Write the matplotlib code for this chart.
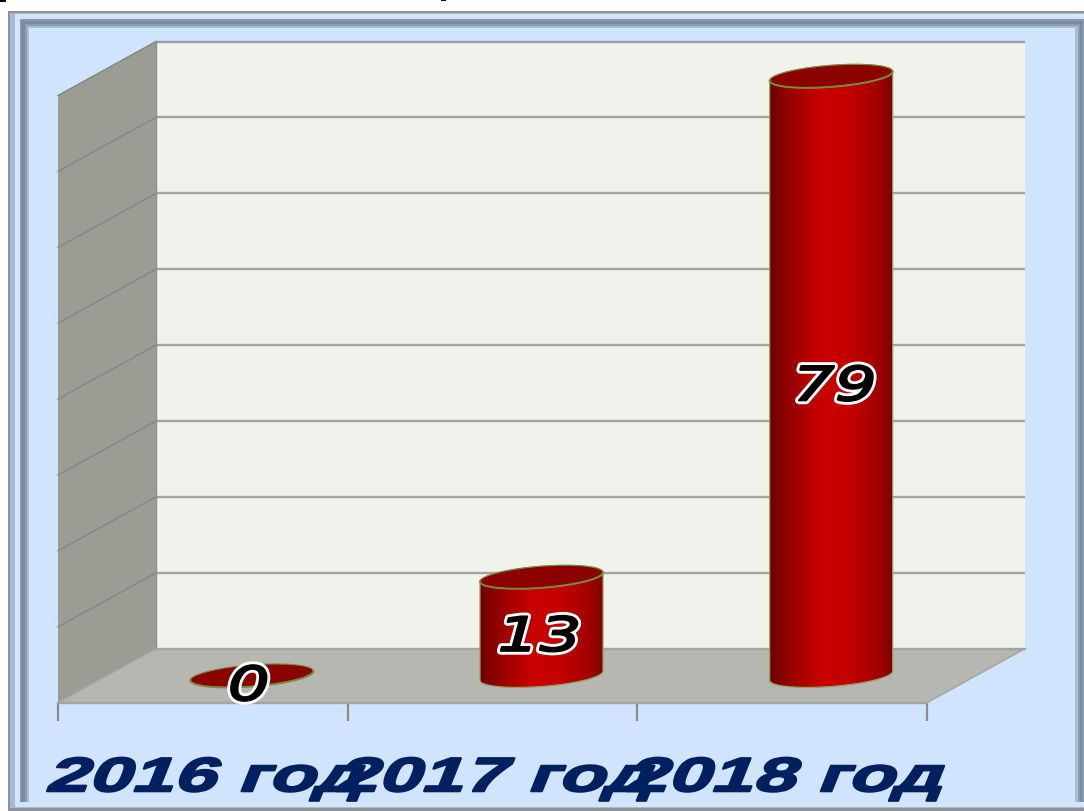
import numpy as np
import matplotlib
matplotlib.use("Agg")
import matplotlib.pyplot as plt
from matplotlib.patches import Polygon, Rectangle, PathPatch
from matplotlib.path import Path
from matplotlib.transforms import Affine2D
from matplotlib.colors import LinearSegmentedColormap
import matplotlib.patheffects as pe

# ---- data -------------------------------------------------------------
categories = ["2016 год", "2017 год", "2018 год"]
values = [0, 13, 79]
value_ticks = [10, 20, 30, 40, 50, 60, 70, 80]

W, H = 1084, 812
PANEL = "#d0e4fd"
BACK = "#f0f3ec"
SIDE = "#9b9d95"
FLOOR = "#b5b7b0"
GRID = "#a3a39f"
NAVY = "#00205f"


class Stretch(pe.AbstractPathEffect):
    """Widen (and optionally slant) a text about its own centre."""

    def __init__(self, sx, effects, skew=0, shift=0):
        super().__init__()
        self.sx = sx
        self.skew = skew
        self.shift = shift
        self.effects = effects

    def draw_path(self, renderer, gc, tpath, affine, rgbFace=None):
        ext = tpath.transformed(affine).get_extents()
        cx = 0.5 * (ext.x0 + ext.x1)
        cy = 0.5 * (ext.y0 + ext.y1)
        aff = affine + (Affine2D().translate(-cx, -cy).skew_deg(self.skew, 0)
                        .scale(self.sx, 1).translate(cx + self.shift, cy))
        for e in self.effects:
            e.draw_path(renderer, gc, tpath, aff, rgbFace)


fig = plt.figure(figsize=(W / 100, H / 100), dpi=100, facecolor="white")

# ---- slide frame (pixel coordinates) -----------------------------------
bg = fig.add_axes([0, 0, 1, 1], zorder=0)
bg.set_xlim(0, W)
bg.set_ylim(H, 0)
bg.axis("off")
frame = [
    (8, 12, 1084, 812, "#8e9296"),
    (10, 14, 1084, 809, "#a7bad4"),
    (15, 15, 1084, 808, "#d4e4f9"),
    (20, 20, 1084, 803, "#8b99ae"),
    (21, 22, 1082, 803, "#7c8aa1"),
    (25, 25, 1080, 803, "#8e9db5"),
    (27, 27, 1078, 803, "#aabdd8"),
    (29, 29, 1075, 803, PANEL),
]
for x0, y0, x1, y1, c in frame:
    bg.add_patch(Rectangle((x0, y0), x1 - x0, y1 - y0, fc=c, ec="none"))
bg.add_patch(Rectangle((0, 0), 6, 3, fc="black", ec="none"))
bg.add_patch(Rectangle((441, 0), 5, 2, fc="black", ec="none"))

# ---- chart axes: front plane of the 3-D box -----------------------------
ax = fig.add_axes([58 / W, (H - 703.7) / H, (927 - 58) / W, (703.7 - 96.5) / H], zorder=1)
ax.patch.set_visible(False)
for sp in ax.spines.values():
    sp.set_visible(False)
n = len(categories)
ymax = max(value_ticks)
px_x = (927 - 58) / n      # pixels per category
px_y = (703.7 - 96.5) / ymax   # pixels per value unit
dx = 98 / px_x             # box depth
dy = 54 / px_y

lw = 1.7
ax.add_patch(Polygon([(dx, dy), (n + dx, dy), (n + dx, ymax + dy), (dx, ymax + dy)],
                     fc=BACK, ec="none", clip_on=False, zorder=1))
ax.add_patch(Polygon([(0, 0), (dx, dy), (dx, ymax + dy), (0, ymax)],
                     fc=SIDE, ec="none", clip_on=False, zorder=1))
ax.add_patch(Polygon([(0, 0), (n, 0), (n + dx, dy), (dx, dy)],
                     fc=FLOOR, ec="none", clip_on=False, zorder=1))
for v in value_ticks:
    ax.plot([dx, n + dx], [v + dy, v + dy], color=GRID if v < ymax else "#9a9ea8",
            lw=lw, clip_on=False, zorder=2, solid_capstyle="butt")
    ax.plot([0, dx], [v, v + dy], color="#85867f", lw=1.0, clip_on=False, zorder=2)
ax.plot([0, dx], [0, dy], color="#a6a8a2", lw=1, clip_on=False, zorder=2)
ax.plot([dx, dx], [dy, ymax + dy], color="#8f918a", lw=1, clip_on=False, zorder=2)
ax.plot([dx, n + dx], [dy, dy], color=GRID, lw=lw, clip_on=False, zorder=2)
ax.plot([0, n], [0, 0], color=GRID, lw=lw, clip_on=False, zorder=2)
ax.plot([n, n + dx], [0, dy], color=GRID, lw=1, clip_on=False, zorder=2)

# ---- cylinders ----------------------------------------------------------
cmap = LinearSegmentedColormap.from_list(
    "cyl", [(0, "#700000"), (0.2, "#a00000"), (0.42, "#c80000"), (0.62, "#c60000"),
            (0.85, "#a80000"), (1, "#800000")])
grad = np.linspace(0, 1, 256).reshape(1, -1)
a = 61.5 / px_x
b = 10.8 / px_y
s = 4.6 / px_y
EDGE = "#7d8a3a"


def rim(cx, cy, t):
    return cx + a * np.cos(t), cy + b * np.sin(t) + s * np.cos(t)


for i, v in enumerate(values):
    cx = i + 0.5 + dx / 2
    base = dy / 2
    top = base + v
    if v > 0:
        xl, yl = rim(cx, base, np.linspace(np.pi, 2 * np.pi, 60))
        xu, yu = rim(cx, top, np.linspace(0, np.pi, 60))
        verts = np.r_[np.c_[xl, yl], np.c_[xu, yu], [[xl[0], yl[0]]]]
        body = Path(verts, closed=True)
        im = ax.imshow(grad, extent=(cx - a, cx + a, base - 3, top + 3), cmap=cmap,
                       aspect="auto", zorder=3, interpolation="bilinear")
        clip = PathPatch(body, fc="none", ec="#93a060", lw=0.9, clip_on=False, zorder=3.1)
        ax.add_patch(clip)
        im.set_clip_path(clip)
        im.set_clip_box(fig.bbox)
    xc, yc = rim(cx, top, np.linspace(0, 2 * np.pi, 120))
    ax.add_patch(Polygon(np.c_[xc, yc], fc="#8b0000", ec=EDGE, lw=0.8,
                         clip_on=False, zorder=3.2))
    xf, yf = rim(cx, top, np.linspace(np.pi, 2 * np.pi, 60))
    ax.plot(xf, yf, color=EDGE, lw=1.4, clip_on=False, zorder=3.3)
    off = {0: -3, 1: -2, 2: 4}[i]
    ax.annotate(str(v), (cx, base + v / 2), xytext=(off * 0.72, -12 * 0.72),
                textcoords="offset points", ha="center", va="center",
                fontsize=34, family="DejaVu Sans", style="oblique", color="black",
                zorder=5, annotation_clip=False,
                path_effects=[Stretch(1.4, [pe.Stroke(linewidth=5.5, foreground="white"),
                                            pe.Stroke(linewidth=1.4, foreground="black"),
                                            pe.Normal()])])

# ---- axes, ticks, labels -------------------------------------------------
ax.set_xlim(0, n)
ax.set_ylim(0, ymax)
ax.set_yticks([])
ax.set_xticks(np.arange(n + 1))
ax.set_xticklabels([])
ax.tick_params(axis="x", which="major", length=13, width=1.6, color="#8c8c8c", direction="out")
ax.set_xticks(np.arange(n) + 0.5, labels=categories, minor=True)
ax.tick_params(axis="x", which="minor", length=0, pad=38.5)
for lab in ax.get_xticklabels(minor=True):
    lab.set(family="Liberation Sans", weight="bold", fontsize=34.5, color=NAVY)
    lab.set_path_effects([Stretch(1.6, [pe.Stroke(linewidth=1.6, foreground=NAVY),
                                        pe.Normal()], skew=14, shift=5)])

fig.savefig("out.png", dpi=100, facecolor="white")
